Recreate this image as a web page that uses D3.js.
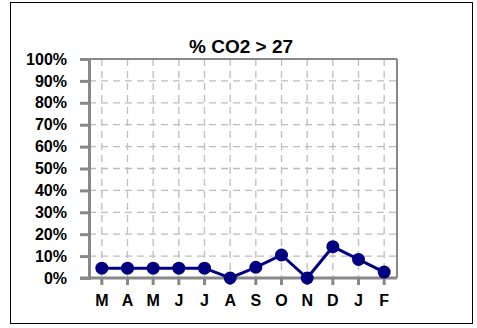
<!DOCTYPE html>
<html><head><meta charset="utf-8">
<script src="https://cdn.jsdelivr.net/npm/d3@7"></script>
<style>body{margin:0;background:#fff}svg{display:block}text{font-family:Arial,"Liberation Sans",sans-serif;font-weight:bold}</style>
</head><body>
<script>
const categories = ["M","A","M","J","J","A","S","O","N","D","J","F"];
const values = [4.5,4.5,4.5,4.5,4.5,0,4.9,10.5,0,14.3,8.5,2.7];
const yTicks = [0,10,20,30,40,50,60,70,80,90,100];
const title = "% CO2 > 27";

const W = 477, H = 328;
const svg = d3.select("body").append("svg").attr("width", W).attr("height", H);
svg.append("rect").attr("x",10.5).attr("y",2.5).attr("width",462).attr("height",321)
  .attr("fill","#fff").attr("stroke","#000").attr("stroke-width",1);

const L = 89, R = 397, T = 59, B = 278;
const x = d3.scaleBand().domain(d3.range(categories.length)).range([L, R]);
const y = d3.scaleLinear().domain([0,100]).range([B, T]);
const cx = i => x(i) + x.bandwidth()/2;

// grid
const g = svg.append("g");
g.selectAll("line.h").data(yTicks.slice(1)).join("line")
  .attr("x1",L).attr("x2",R).attr("y1",d=>y(d)).attr("y2",d=>y(d))
  .attr("stroke","#bdbdbd").attr("stroke-width",1.3).attr("stroke-dasharray","7,5");
g.selectAll("line.v").data(d3.range(categories.length)).join("line")
  .attr("x1",cx).attr("x2",cx).attr("y1",T).attr("y2",B)
  .attr("stroke","#bdbdbd").attr("stroke-width",1.3).attr("stroke-dasharray","7,5");

// frame
svg.append("line").attr("x1",L).attr("x2",R).attr("y1",T).attr("y2",T).attr("stroke","#888").attr("stroke-width",2);
svg.append("line").attr("x1",R).attr("x2",R).attr("y1",T).attr("y2",B).attr("stroke","#888").attr("stroke-width",2);

const font = "Arial, 'Liberation Sans', sans-serif";
// axes
const yAxis = d3.axisLeft(y).tickValues(yTicks).tickFormat(d=>d+"%").tickSize(9).tickPadding(13);
const ya = svg.append("g").attr("transform",`translate(${L},0)`).call(yAxis);
ya.select(".domain").attr("stroke","#888").attr("stroke-width",3);
ya.selectAll(".tick line").attr("stroke","#888").attr("stroke-width",3);
ya.selectAll("text").attr("font-size",16).attr("fill","#000").attr("font-family",font).attr("font-weight","bold");

const xAxis = d3.axisBottom(x).tickFormat(i=>categories[i]).tickSize(7).tickPadding(10);
const xa = svg.append("g").attr("transform",`translate(0,${B})`).call(xAxis);
xa.select(".domain").attr("stroke","#888").attr("stroke-width",3).attr("d",`M${L-9},0H${R}`);
xa.selectAll(".tick line").attr("stroke","#888").attr("stroke-width",3);
xa.selectAll("text").attr("font-size",16).attr("fill","#000").attr("font-family",font).attr("font-weight","bold");

// title
svg.append("text").attr("x",241).attr("y",53).attr("text-anchor","middle")
  .attr("font-size",19).text(title);

// line
svg.append("path").datum(values)
  .attr("d", d3.line().x((d,i)=>cx(i)).y(d=>y(d)))
  .attr("fill","none").attr("stroke","#000080").attr("stroke-width",3);
svg.selectAll("circle.pt").data(values).join("circle")
  .attr("cx",(d,i)=>cx(i)).attr("cy",d=>y(d)).attr("r",6.5).attr("fill","#000080");
</script>
</body></html>
